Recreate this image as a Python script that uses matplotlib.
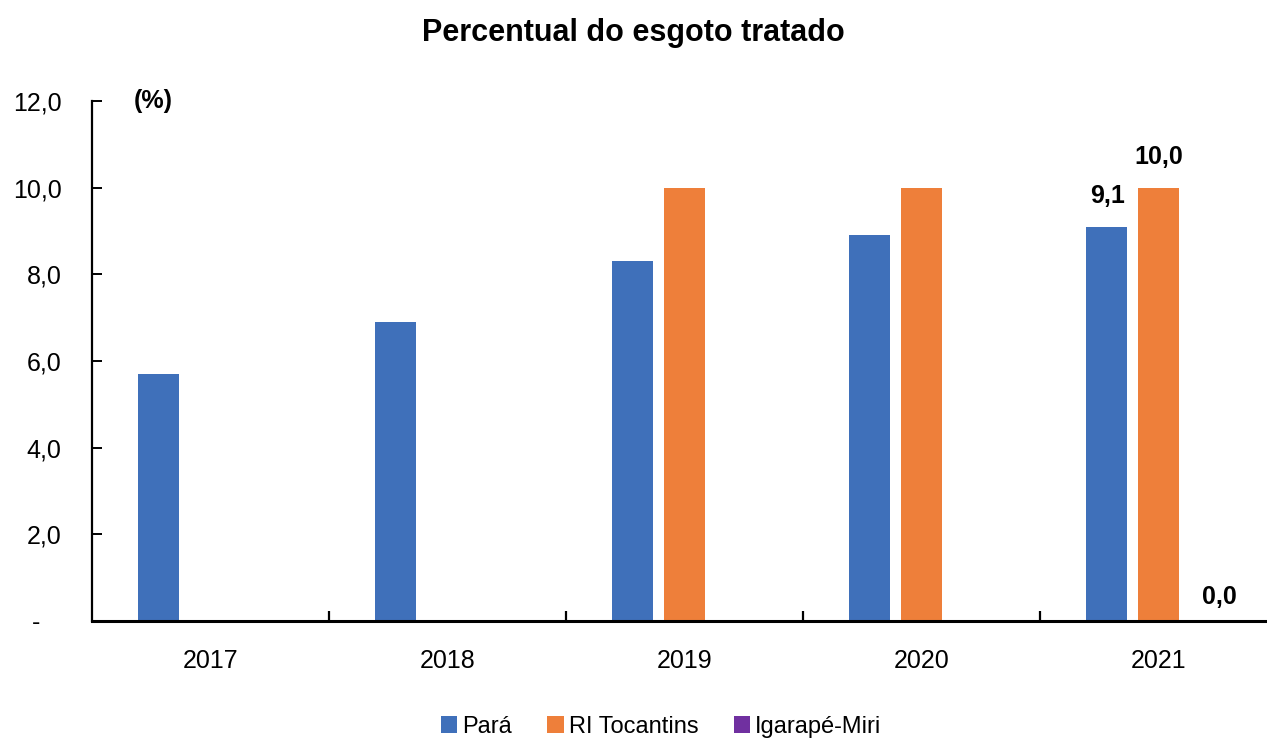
import numpy as np
import matplotlib
matplotlib.use("Agg")
import matplotlib.pyplot as plt
from matplotlib.ticker import FixedLocator, FuncFormatter
from matplotlib.patches import Patch

plt.rcParams['font.family'] = ['Liberation Sans', 'DejaVu Sans']

years = ['2017', '2018', '2019', '2020', '2021']
series_names = ['Pará', 'RI Tocantins', 'Igarapé-Miri']
para = [5.7, 6.9, 8.3, 8.9, 9.1]
ri_tocantins = [np.nan, np.nan, 10.0, 10.0, 10.0]
igarape_miri = [np.nan, np.nan, np.nan, np.nan, 0.0]
colors = ['#3F70BA', '#EE7F3A', '#7030A0']

W, H = 1267, 741
fig = plt.figure(figsize=(W / 100, H / 100), dpi=100)
left, right = 92, 1277
bottom_px, top_px = 621, 101
ax = fig.add_axes([left / W, 1 - bottom_px / H, (right - left) / W, (bottom_px - top_px) / H])

x = np.arange(len(years))
offsets = [-0.22, 0.0, 0.22]
width = 0.175
all_series = [para, ri_tocantins, igarape_miri]
for vals, off, c in zip(all_series, offsets, colors):
    ax.bar(x + off, vals, width=width, color=c, zorder=2)

ax.set_xlim(-0.5, len(years) - 0.5)
ax.set_ylim(0, 12)

for s in ['top', 'right']:
    ax.spines[s].set_visible(False)
ax.spines['left'].set_linewidth(1.6)
ax.spines['bottom'].set_linewidth(2.2)

ax.set_yticks(np.arange(0, 12.1, 2))
ax.yaxis.set_major_formatter(FuncFormatter(lambda v, p: '-   ' if abs(v) < 1e-9 else f'{v:.1f}'.replace('.', ',')))
ax.tick_params(axis='y', direction='in', length=7, width=1.4, labelsize=18, pad=22, colors='black')

ax.set_xticks(x)
ax.set_xticklabels(years)
ax.tick_params(axis='x', which='major', length=0, labelsize=18, pad=20)
ax.xaxis.set_minor_locator(FixedLocator(np.arange(0.5, len(years) - 0.5, 1)))
ax.tick_params(axis='x', which='minor', direction='in', length=7, width=1.6)

ax.text(0.035, 12.0, '(%)', transform=ax.get_yaxis_transform(), fontsize=18, fontweight='bold', va='center', ha='left')

# data labels for last year
last = len(years) - 1
ax.annotate(f'{para[last]:.1f}'.replace('.', ','), (x[last] + offsets[0], para[last]), xytext=(1, 22),
            textcoords='offset points', ha='center', va='center', fontsize=18, fontweight='bold')
ax.annotate(f'{ri_tocantins[last]:.1f}'.replace('.', ','), (x[last] + offsets[1], ri_tocantins[last]), xytext=(0, 22),
            textcoords='offset points', ha='center', va='center', fontsize=18, fontweight='bold')
ax.annotate(f'{igarape_miri[last]:.1f}'.replace('.', ','), (x[last] + offsets[2], igarape_miri[last]), xytext=(6, 17),
            textcoords='offset points', ha='center', va='center', fontsize=18, fontweight='bold')

fig.text(0.5, 1 - 33 / H, 'Percentual do esgoto tratado', ha='center', va='center', fontsize=22, fontweight='bold')

handles = [Patch(facecolor=c) for c in colors]
fig.legend(handles, series_names, loc='center', bbox_to_anchor=(661 / W, 1 - 727 / H), ncol=3, frameon=False,
           fontsize=17, handlelength=0.7, handleheight=0.7, handletextpad=0.2, columnspacing=1.5)

fig.savefig('out.png', dpi=100)
